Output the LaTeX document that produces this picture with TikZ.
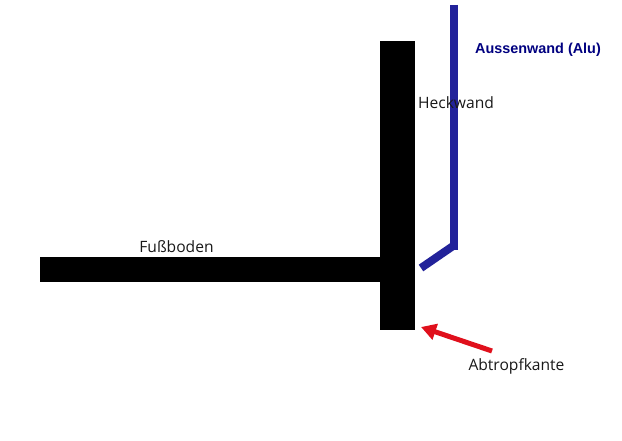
\documentclass[tikz,border=0pt]{standalone}
\usepackage{fontspec}
\setmainfont{Open Sans}
\newfontfamily\alufont{Liberation Sans}
\usetikzlibrary{arrows.meta}
\definecolor{wandblue}{HTML}{22229A}
\definecolor{alunavy}{HTML}{000080}
\definecolor{tipred}{HTML}{E0101C}
\tikzset{
  x=1pt,y=-1pt,
  solidblock/.style={fill=black,draw=none},
  wandline/.style={draw=wandblue,line width=8pt,line cap=butt},
  tipline/.style={draw=tipred,line width=5pt,-{Triangle[length=15pt,width=16pt]}},
  lab/.style={inner sep=0pt,font=\fontsize{15.6}{18}\selectfont,text=black!90},
  alulab/.style={inner sep=0pt,font=\alufont\fontsize{14.4}{17}\selectfont\bfseries,text=alunavy}
}
\begin{document}
\begin{tikzpicture}
\useasboundingbox (0,0) rectangle (622,441);
\fill[white] (0,0) rectangle (622,441);
\path[solidblock] (380,41) rectangle (415,330);
\path[solidblock] (40,257) rectangle (380,282);
\coordinate (walltop) at (454,5);
\coordinate (wallfoot) at (454,250);
\coordinate (wallknee) at (454.5,245);
\coordinate (wallend) at (421,268);
\path[wandline] (walltop) -- (wallfoot);
\path[wandline] (wallknee) -- (wallend);
\coordinate (tipstart) at (492,351);
\coordinate (tipend) at (421,327);
\draw[tipline] (tipstart) -- (tipend);
\node[lab,anchor=center] (fuss) at (176.5,246.5) {Fußboden};
\node[lab,anchor=center] (heck) at (456,102.5) {Heckwand};
\node[lab,anchor=center] (abtropf) at (516.5,366.5) {Abtropfkante};
\node[alulab,anchor=center] (alu) at (538,49.5) {Aussenwand (Alu)};
\end{tikzpicture}
\end{document}
